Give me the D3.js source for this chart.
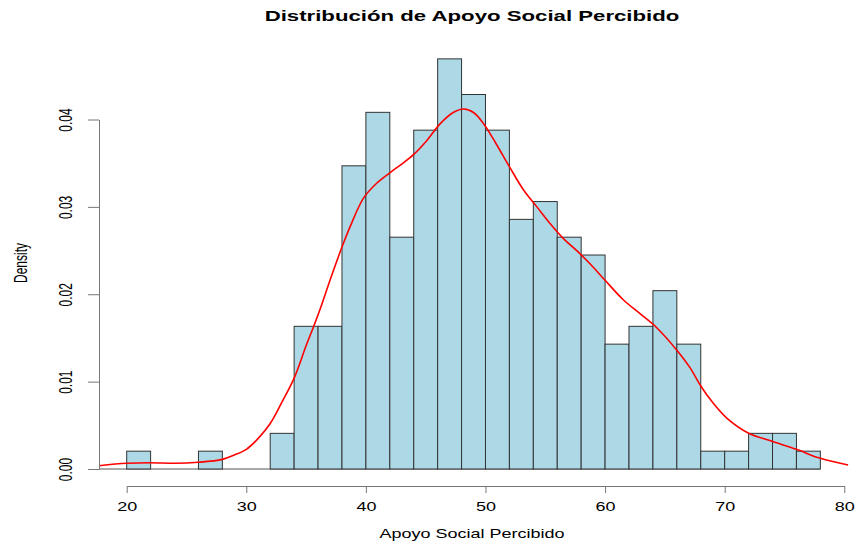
<!DOCTYPE html>
<html>
<head>
<meta charset="utf-8">
<script src="https://cdn.jsdelivr.net/npm/d3@7"></script>
<style>
  body { margin: 0; background: #fff; }
  svg { display: block; font-family: "Liberation Sans", Arial, sans-serif; }
</style>
</head>
<body>
<svg width="856" height="544"></svg>
<script>
// histogram: bin starts (width 2) and density heights
var binStarts = [20,22,24,26,28,30,32,34,36,38,40,42,44,46,48,50,52,54,56,58,60,62,64,66,68,70,72,74,76]
var binDensity = [0.00204,0,0,0.00204,0,0,0.00408,0.01633,0.01633,0.0347,0.04082,0.02653,0.03878,0.04694,0.04286,0.03878,0.02857,0.03061,0.02653,0.02449,0.01429,0.01633,0.02041,0.01429,0.00204,0.00204,0.00408,0.00408,0.00204]
var binWidth = 2

// kernel density curve (red)
var kdeX = [17.68,20,22,24,26,28,29,30,31,32,33,34,35,35.6,36.2,37,38,38.7,39.8,40.9,42,43,44,45.1,46.2,47.3,48.2,49,49.8,50.9,52,53.2,54.3,55.4,56.5,57.7,58.8,60,61.5,62.9,64.3,66,67.1,68,69,70.2,72,73.9,76,78,80.32]
var kdeY = [0.00038,0.00065,0.00072,0.00065,0.00077,0.0011,0.0016,0.00225,0.0035,0.0052,0.0077,0.0104,0.0141,0.0162,0.0184,0.0216,0.0254,0.0278,0.0310,0.0327,0.0339,0.0349,0.0360,0.0376,0.0395,0.0408,0.0412,0.0408,0.0396,0.0372,0.0346,0.0319,0.0300,0.0281,0.0264,0.0249,0.0234,0.0216,0.0194,0.0178,0.0162,0.0136,0.0116,0.0095,0.0076,0.0058,0.0041,0.0032,0.00225,0.00122,0.00046]

var xTicks = [20,30,40,50,60,70,80]
var yTicks = [0,0.01,0.02,0.03,0.04]

var titleText = "Distribución de Apoyo Social Percibido"
var xLabel = "Apoyo Social Percibido"
var yLabel = "Density"

var sx = 1.5 // the R device output is stretched sideways

var svg = d3.select("svg")

var x = d3.scaleLinear().domain([17.68, 80.32]).range([98.95, 848.1])
var y = d3.scaleLinear().domain([0, 0.04]).range([469, 119.5])

// baseline under the bars
svg.append("line")
  .attr("x1", x(17.68)).attr("x2", x(78))
  .attr("y1", y(0)).attr("y2", y(0))
  .style("stroke", "#555").style("stroke-width", 1)

svg.append("g").selectAll("rect")
  .data(binStarts)
  .join("rect")
  .attr("x", d => x(d))
  .attr("width", d => x(d + binWidth) - x(d))
  .attr("y", (d,i) => y(binDensity[i]))
  .attr("height", (d,i) => y(0) - y(binDensity[i]))
  .style("fill", "#ADD8E6")
  .style("stroke", "#333")
  .style("stroke-width", 1)

var line = d3.line()
  .x(d => x(d[0]))
  .y(d => y(d[1]))
  .curve(d3.curveCatmullRom.alpha(0.5))

svg.append("path")
  .attr("d", line(kdeX.map((v,i) => [v, kdeY[i]])))
  .style("fill", "none")
  .style("stroke", "#ff0000")
  .style("stroke-width", 1.6)

// x axis, line spans only the ticks like base R
var xa = x.copy().domain([20, 80]).range([x(20), x(80)])
var gx = svg.append("g")
  .attr("transform", "translate(0,486)")
  .call(d3.axisBottom(xa).tickValues(xTicks).tickSize(7).tickSizeOuter(0))
gx.select(".domain").style("stroke", "#777")
gx.selectAll(".tick line").style("stroke", "#777")
gx.selectAll(".tick text")
  .attr("y", null).attr("dy", null)
  .attr("transform", "translate(0,25) scale(" + sx + ",1)")
  .style("font-size", "12px").style("fill", "#000")

var ya = y.copy().domain([0, 0.04]).range([y(0), y(0.04)])
var gy = svg.append("g")
  .attr("transform", "translate(99,0)")
  .call(d3.axisLeft(ya).tickValues(yTicks).tickFormat(d3.format(".2f")).tickSize(11).tickSizeOuter(0))
gy.select(".domain").style("stroke", "#777")
gy.selectAll(".tick line").style("stroke", "#777")
gy.selectAll(".tick text")
  .attr("x", null).attr("dy", null)
  .attr("text-anchor", "middle")
  .attr("transform", "translate(-27,0) scale(" + sx + ",1) rotate(-90)")
  .style("font-size", "12px").style("fill", "#000")

svg.append("text")
  .attr("transform", "translate(472,21) scale(" + sx + ",1)")
  .attr("text-anchor", "middle")
  .style("font-size", "14.8px").style("font-weight", "bold")
  .text(titleText)

svg.append("text")
  .attr("transform", "translate(472,538) scale(" + sx + ",1)")
  .attr("text-anchor", "middle")
  .style("font-size", "12px")
  .text(xLabel)

svg.append("text")
  .attr("transform", "translate(27,263) scale(" + sx + ",1) rotate(-90)")
  .attr("text-anchor", "middle")
  .style("font-size", "12px")
  .text(yLabel)
</script>
</body>
</html>
